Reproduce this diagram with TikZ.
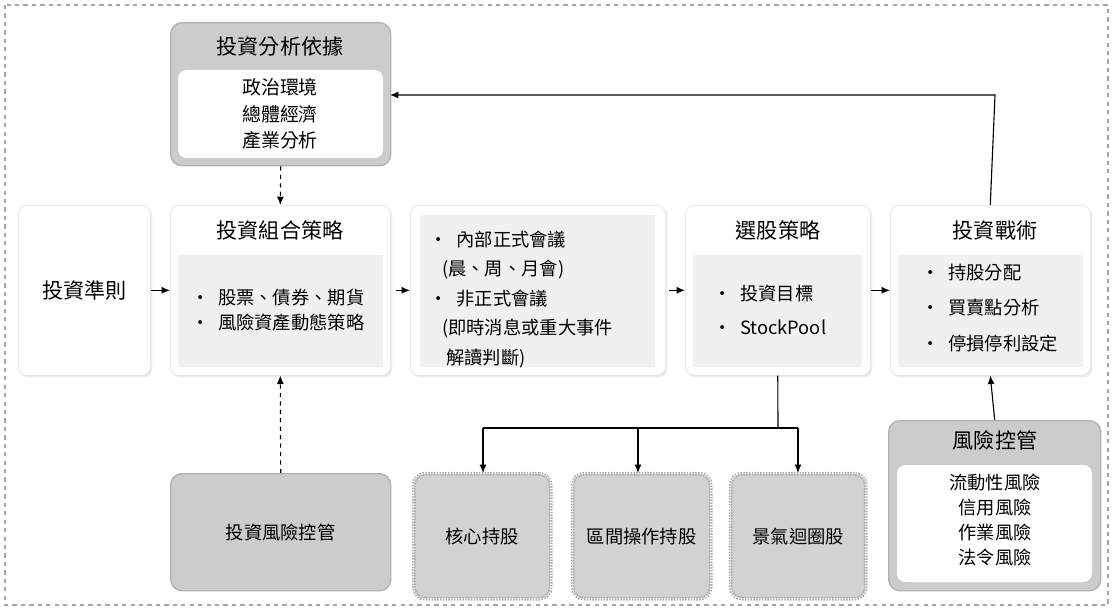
\documentclass[tikz,border=0pt]{standalone}
\usepackage{fontspec}
\setmainfont{Noto Sans CJK TC}
\usetikzlibrary{arrows.meta,shadows}
\begin{document}
\begin{tikzpicture}[x=0.025cm,y=-0.025cm,
  card/.style={draw=gray!25,fill=white,rounded corners=6pt,drop shadow={shadow xshift=1.5pt,shadow yshift=-1.5pt,fill=gray!30}},
  dark/.style={draw=gray!60,fill=gray!40,rounded corners=8pt,line width=1pt},
  stock/.style={draw=gray!70,densely dotted,fill=gray!35,rounded corners=8pt,line width=1pt,double=gray!20},
  ttl/.style={font=\fontsize{15}{17}\selectfont},
  txt/.style={font=\fontsize{13}{18}\selectfont,align=left},
  arr/.style={-{Latex[length=6pt,width=5pt]},line width=0.8pt},
  darr/.style={arr,dashed}]
\useasboundingbox (0,0) rectangle (1114,611);
\draw[gray!70,dashed,line width=1pt] (5,5) rectangle (1108,605);
% analysis
\node[dark,minimum width=220*0.025cm,minimum height=143*0.025cm,anchor=north west] (ana) at (170,22) {};
\fill[white,rounded corners=6pt] (178,70) rectangle (383,158);
\node[ttl] (anat) at (280,47) {投資分析依據};
\node[font=\fontsize{13.5}{19}\selectfont,align=center] (anab) at (280,114) {政治環境\\總體經濟\\產業分析};
% guideline
\node[card,minimum width=132*0.025cm,minimum height=170*0.025cm,anchor=north west] (gd) at (18,205) {};
\node[ttl] at (gd) {投資準則};
% portfolio
\node[card,minimum width=220*0.025cm,minimum height=170*0.025cm,anchor=north west] (pf) at (170,205) {};
\fill[gray!12] (178,255) rectangle (383,367);
\node[ttl] at (280,230) {投資組合策略};
\node[txt] at (278,310) {• \ 股票、債券、期貨\\• \ 風險資產動態策略};
% meeting
\node[card,minimum width=255*0.025cm,minimum height=170*0.025cm,anchor=north west] (mt) at (410,205) {};
\fill[gray!12] (420,215) rectangle (655,367);
\node[txt,anchor=north west,font=\fontsize{13}{21}\selectfont] at (425,226) {• \ 內部正式會議\\\ \ \ (晨、周、月會)\\• \ 非正式會議\\\ \ \ (即時消息或重大事件\\\ \ \ \ 解讀判斷)};
% stock selection
\node[card,minimum width=185*0.025cm,minimum height=170*0.025cm,anchor=north west] (ss) at (685,205) {};
\fill[gray!12] (693,255) rectangle (862,367);
\node[ttl] at (778,230) {選股策略};
\node[txt,font=\fontsize{13}{24}\selectfont] at (770,310) {• \ 投資目標\\• \ StockPool};
% tactics
\node[card,minimum width=200*0.025cm,minimum height=170*0.025cm,anchor=north west] (tc) at (890,205) {};
\fill[gray!12] (898,255) rectangle (1083,367);
\node[ttl] at (995,230) {投資戰術};
\node[txt,font=\fontsize{13}{25}\selectfont] at (990,308) {• \ 持股分配\\• \ 買賣點分析\\• \ 停損停利設定};
% risk control
\node[dark,minimum width=212*0.025cm,minimum height=170*0.025cm,anchor=north west] (rc) at (888,420) {};
\fill[white,rounded corners=6pt] (897,465) rectangle (1092,582);
\node[ttl] at (995,440) {風險控管};
\node[font=\fontsize{13}{18}\selectfont,align=center] at (995,520) {流動性風險\\信用風險\\作業風險\\法令風險};
% investment risk control
\node[dark,minimum width=220*0.025cm,minimum height=117*0.025cm,anchor=north west] (irc) at (170,473) {};
\node[txt] at (irc) {投資風險控管};
% stock boxes
\node[stock,minimum width=137*0.025cm,minimum height=125*0.025cm,anchor=north west] (s1) at (413,473) {};
\node[txt] at (s1) {核心持股};
\node[stock,minimum width=138*0.025cm,minimum height=125*0.025cm,anchor=north west] (s2) at (572,473) {};
\node[txt] at (s2) {區間操作持股};
\node[stock,minimum width=135*0.025cm,minimum height=125*0.025cm,anchor=north west] (s3) at (730,473) {};
\node[txt] at (s3) {景氣迴圈股};
% arrows
\draw[arr] (gd.east) -- (pf.west);
\draw[arr] (pf.east) ++(5,0) -- (mt.west);
\draw[arr] (mt.east) ++(3,0) -- (ss.west);
\draw[arr] (ss.east) -- (tc.west);
\draw[arr] (tc.north) -- (995,95) -- (390,95);
\draw[darr] (ana.south) -- (pf.north);
\draw[darr] (irc.north) -- (pf.south);
\draw[arr] (rc.north) -- (tc.south);
\draw[line width=0.8pt] (ss.south) -- (778,428);
\draw[line width=0.8pt] (483,428) -- (798,428);
\draw[arr] (483,428) -- (483,473);
\draw[arr] (638,428) -- (638,473);
\draw[arr] (798,428) -- (798,473);
\end{tikzpicture}
\end{document}
